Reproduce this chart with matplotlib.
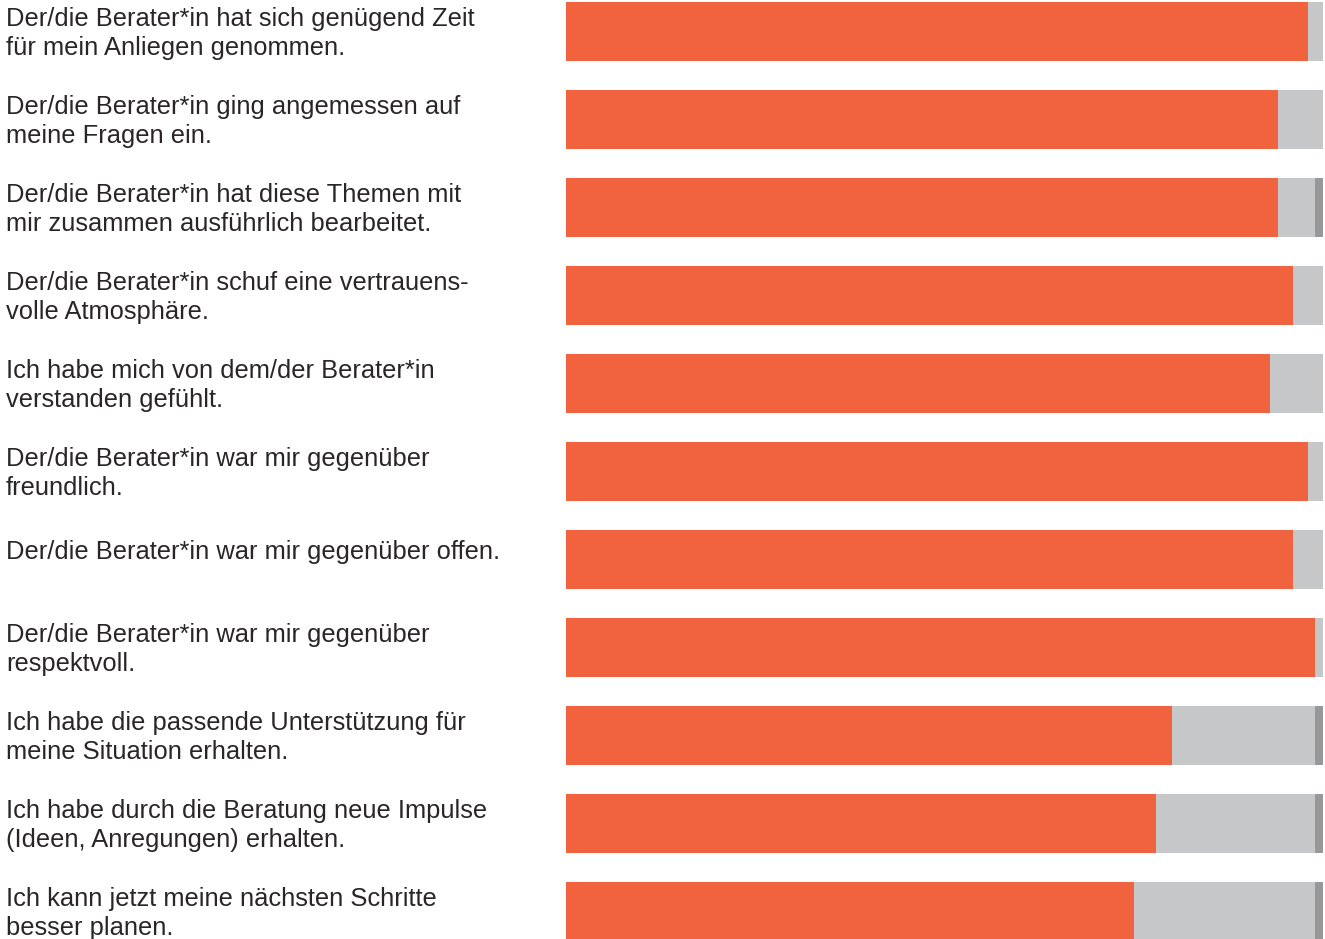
import numpy as np
import matplotlib
matplotlib.use('Agg')
import matplotlib.pyplot as plt
from matplotlib.transforms import blended_transform_factory

# Aussagen (von oben nach unten)
labels = [
    'Der/die Berater*in hat sich genügend Zeit\nfür mein Anliegen genommen.',
    'Der/die Berater*in ging angemessen auf\nmeine Fragen ein.',
    'Der/die Berater*in hat diese Themen mit\nmir zusammen ausführlich bearbeitet.',
    'Der/die Berater*in schuf eine vertrauens-\nvolle Atmosphäre.',
    'Ich habe mich von dem/der Berater*in\nverstanden gefühlt.',
    'Der/die Berater*in war mir gegenüber\nfreundlich.',
    'Der/die Berater*in war mir gegenüber offen.',
    'Der/die Berater*in war mir gegenüber\nrespektvoll.',
    'Ich habe die passende Unterstützung für\nmeine Situation erhalten.',
    'Ich habe durch die Beratung neue Impulse\n(Ideen, Anregungen) erhalten.',
    'Ich kann jetzt meine nächsten Schritte\nbesser planen.',
]

# Anteile in Prozent
trifft_zu = [98, 94, 94, 96, 93, 98, 96, 99, 80, 78, 75]
teilweise = [2, 6, 5, 4, 7, 2, 4, 1, 19, 21, 24]
nicht_zu = [0, 0, 1, 0, 0, 0, 0, 0, 1, 1, 1]

ORANGE = '#F1623F'
HELLGRAU = '#C6C7C8'
DUNKELGRAU = '#97989A'

W, H = 1325, 939
fig = plt.figure(figsize=(W / 100, H / 100), dpi=100)
ax = fig.add_axes([566 / W, 0, 759 / W, 1])

y = np.arange(len(labels))
a = np.array(trifft_zu, dtype=float)
b = np.array(teilweise, dtype=float)
c = np.array(nicht_zu, dtype=float)

h = 59 / 88
ax.barh(y, a, height=h, color=ORANGE, linewidth=0)
ax.barh(y, b, left=a, height=h, color=HELLGRAU, linewidth=0)
ax.barh(y, c, left=a + b, height=h, color=DUNKELGRAU, linewidth=0)

ax.set_xlim(0, 100 * 759 / 757)
ax.set_ylim((H - 31.5) / 88, -31.5 / 88)
ax.axis('off')

# Beschriftungen links
trans = blended_transform_factory(fig.transFigure, ax.transData)
for i, lab in enumerate(labels):
    dy = 0.025 if '\n' in lab else -0.08
    ax.text(6 / W, i + dy, lab, transform=trans,
            ha='left', va='center', fontsize=18.4, family='Liberation Sans',
            color='#2a2627', linespacing=1.24)

fig.savefig('out.png', dpi=100)
